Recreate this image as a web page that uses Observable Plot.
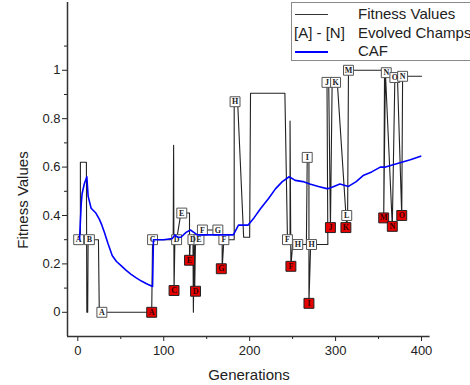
<!DOCTYPE html>
<html><head><meta charset="utf-8">
<script src="https://cdn.jsdelivr.net/npm/d3@7"></script>
<script src="https://cdn.jsdelivr.net/npm/@observablehq/plot@0.6"></script>
<style>
body{margin:0;background:#fff;font-family:"Liberation Sans",Arial,sans-serif;}
#wrap{position:relative;width:470px;height:385px;overflow:hidden;}
#legend{position:absolute;left:291px;top:2px;width:200px;height:57px;border:1px solid #8a8a8a;background:#fff;font-size:15px;color:#222;}
.row{position:absolute;left:0;width:200px;height:18px;line-height:18px;white-space:nowrap;}
.sw{position:absolute;left:3px;width:33px;top:9px;}
.lbl{position:absolute;left:66px;}
.axt{position:absolute;font-size:15px;color:#222;white-space:nowrap;}
</style></head><body>
<div id="wrap"><div id="chart"></div>
<div id="legend">
  <div class="row" style="top:2px"><div class="sw" style="height:1px;background:#333"></div><span class="lbl">Fitness Values</span></div>
  <div class="row" style="top:21px"><span style="position:absolute;left:2px">[A] - [N]</span><span class="lbl">Evolved Champs</span></div>
  <div class="row" style="top:39px"><div class="sw" style="height:2px;background:#0000ff"></div><span class="lbl">CAF</span></div>
</div>
<div class="axt" style="left:249px;top:374px;transform:translate(-50%,-50%)">Generations</div>
<div class="axt" style="left:22px;top:200px;transform:translate(-50%,-50%) rotate(-90deg)">Fitness Values</div>
</div>
<script>
// Fitness values path (generation, value)
const fitGen = [1,3,3,10,10.5,11.5,12,24,25,86,87,111,111.5,112,113,115,120,130,130,131,134,134.5,135.5,136,137,141,143,163,166,168,168,170,182,182,186,193,200,201,241,244,247,247,248,250,256,266,267,269,269,271,291,290,292,294,296,301,302,313,314,315,357,356,358,366,369,372,377,378,400];
const fitVal = [0.30,0.30,0.62,0.62,0.0,0.0,0.30,0.30,0.0,0.0,0.30,0.30,0.69,0.09,0.30,0.30,0.41,0.41,0.21,0.30,0.30,0.0,0.30,0.09,0.30,0.30,0.34,0.34,0.34,0.30,0.18,0.30,0.30,0.87,0.87,0.31,0.31,0.905,0.905,0.30,0.30,0.79,0.19,0.28,0.28,0.28,0.64,0.64,0.04,0.28,0.28,0.95,0.95,0.35,0.95,0.95,0.95,0.35,0.40,1.0,1.0,0.39,0.99,0.355,0.97,0.97,0.40,0.975,0.975];

// CAF curve
const cafGen = [2,4,5,7.5,10.5,12,15.5,21,25,28,31,35,40,45,50,56,62,68,74,80,87,88,100,110,113,116,120,126,131,135,139,150,165,181,187,198,205,213,222,230,238,246,253,262,270,280,291,298,305,315,324,332,342,352,358,367,377,387,399];
const cafVal = [0.30,0.45,0.49,0.53,0.56,0.48,0.43,0.41,0.385,0.36,0.33,0.285,0.235,0.21,0.194,0.174,0.157,0.142,0.129,0.118,0.107,0.30,0.30,0.305,0.32,0.31,0.31,0.33,0.34,0.33,0.32,0.32,0.32,0.32,0.36,0.36,0.39,0.43,0.47,0.51,0.54,0.56,0.545,0.54,0.53,0.52,0.51,0.52,0.53,0.52,0.54,0.565,0.58,0.60,0.60,0.61,0.62,0.63,0.645];

// Evolved champions (white boxes)
const champLetter = ["A","B","A","C","D","E","D","E","F","G","F","H","F","H","H","I","J","K","L","M","N","O","N"];
const champGen = [1,13.5,28,87,115,121,134,141,145,163,170,183,244,256,272,267,290,300,313,315,359,369,378];
const champVal = [0.30,0.30,0.0,0.30,0.30,0.41,0.30,0.30,0.34,0.34,0.30,0.87,0.30,0.28,0.28,0.64,0.95,0.95,0.40,1.0,0.99,0.97,0.975];

// Red boxes
const redLetter = ["A","C","E","D","G","F","I","J","K","M","N","O"];
const redGen = [86,112,130,137,167,248,269,294,312,356,366,377];
const redVal = [0.0,0.09,0.215,0.087,0.18,0.19,0.037,0.35,0.35,0.39,0.355,0.40];

const xDomain = [-12, 410];
const yDomain = [-0.1, 1.28];
const xTicks = [0,100,200,300,400];
const xMinor = [50,150,250,350];
const yTicks = [0,0.2,0.4,0.6,0.8,1];
const yMinor = [0.1,0.3,0.5,0.7,0.9,1.1];

const fit = fitGen.map((g,i)=>({g, v: fitVal[i]}));
const caf = cafGen.map((g,i)=>({g, v: cafVal[i]}));
const champs = champGen.map((g,i)=>({g, v: champVal[i], t: champLetter[i]}));
const reds = redGen.map((g,i)=>({g, v: redVal[i], t: redLetter[i]}));

const chart = Plot.plot({
  width: 470, height: 385,
  marginLeft: 67, marginRight: 40.4, marginTop: 2, marginBottom: 49,
  x: {domain: xDomain},
  y: {domain: yDomain},
  style: {fontFamily: "'Liberation Sans', Arial, sans-serif", fontSize: "13px", color: "#222", background: "transparent"},
  marks: [
    Plot.axisX({ticks: xTicks, tickSize: 5, tickPadding: 4, tickFormat: d => String(d), label: null, fontSize: 13}),
    Plot.axisX({ticks: xMinor, tickSize: 3, tickFormat: () => "", label: null}),
    Plot.axisY({ticks: yTicks, tickSize: 5, tickPadding: 2, tickFormat: d => String(d), label: null, fontSize: 13}),
    Plot.axisY({ticks: yMinor, tickSize: 3, tickFormat: () => "", label: null}),
    Plot.ruleX([xDomain[0]], {stroke: "#333", strokeWidth: 1.5}),
    Plot.ruleY([yDomain[0]], {stroke: "#333", strokeWidth: 1.5}),
    Plot.line(fit, {x: "g", y: "v", stroke: "#222", strokeWidth: 1.1}),
    Plot.dot(champs, {x: "g", y: "v", symbol: "square", r: 5.6, fill: "white", stroke: "#555", strokeWidth: 1}),
    Plot.text(champs, {x: "g", y: "v", text: "t", fontFamily: "'Liberation Serif', serif", fontWeight: "bold", fontSize: 8, fill: "#222"}),
    Plot.dot(reds, {x: "g", y: "v", symbol: "square", r: 5.6, fill: "#e60000", stroke: "#222", strokeWidth: 1}),
    Plot.text(reds, {x: "g", y: "v", text: "t", fontFamily: "'Liberation Serif', serif", fontWeight: "bold", fontSize: 8, fill: "#300"}),
    Plot.line(caf, {x: "g", y: "v", stroke: "#0000ff", strokeWidth: 1.6})
  ]
});
document.getElementById("chart").appendChild(chart);
</script>
</body></html>
